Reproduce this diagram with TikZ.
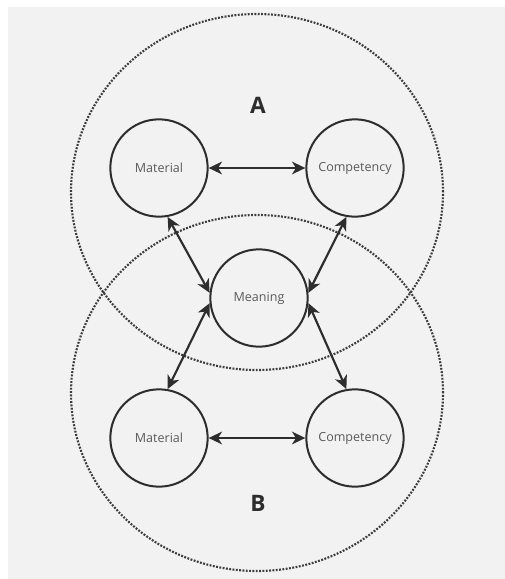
\documentclass[tikz,border=0pt]{standalone}
\usepackage{fontspec}
\setmainfont{Open Sans}
\usetikzlibrary{arrows.meta,shapes.geometric}
\definecolor{cInk}{RGB}{45,45,45}
\definecolor{cText}{RGB}{90,90,90}
\definecolor{cDot}{RGB}{60,60,60}
\definecolor{cPaper}{RGB}{242,242,242}

\begin{document}
\begin{tikzpicture}[
  x=0.75pt, y=-0.75pt, font=\fontsize{9.4}{11}\selectfont, color=cInk,
  idea/.style={circle, draw, line width=1.5pt, minimum size=73pt,
               inner sep=0pt, text=cText},
  ring/.style={ellipse, draw=cDot, line width=1.6pt,
               dash pattern=on 1.4pt off 1.1pt,
               minimum width=279pt, minimum height=267pt, inner sep=0pt},
  tag/.style ={font=\fontsize{17}{20}\selectfont\bfseries, text=cInk},
  link/.style={{Stealth[length=10pt,width=9.5pt,inset=3pt]}-{Stealth[length=10pt,width=9.5pt,inset=3pt]},
               line width=1.6pt},
]

% page: white strip left and top, grey paper elsewhere
\useasboundingbox (0,0) rectangle (505,579);
\fill[white]  (0,0) rectangle (505,579);
\fill[cPaper] (8,7) rectangle (505,579);

% ----- the two dotted groups ---------------------------------------------
\node[ring] (ringA) at (257,192) {};
\node[ring] (ringB) at (257,393) {};
\node[tag]  (tagA)  at (258,105) {A};
\node[tag]  (tagB)  at (258,503) {B};

% rows: 168 / 298 / 438
\node[idea] (matA)  at (159,168) {Material};
\node[idea] (compA) at (355,168) {Competency};
\node[idea] (mean)  at (259,298) {Meaning};
\node[idea] (matB)  at (159,438) {Material};
\node[idea] (compB) at (355,438) {Competency};

% ----- within each group -------------------------------------------------
\draw[link] (matA) -- (compA);
\draw[link] (matB) -- (compB);

% ----- both groups meet in the middle ------------------------------------
\draw[link] (matA.-80)  -- (mean.174);
\draw[link] (compA.-100) -- (mean.6);
\draw[link] (mean.186)  -- (matB.80);
\draw[link] (mean.-6)   -- (compB.100);

\end{tikzpicture}
\end{document}
